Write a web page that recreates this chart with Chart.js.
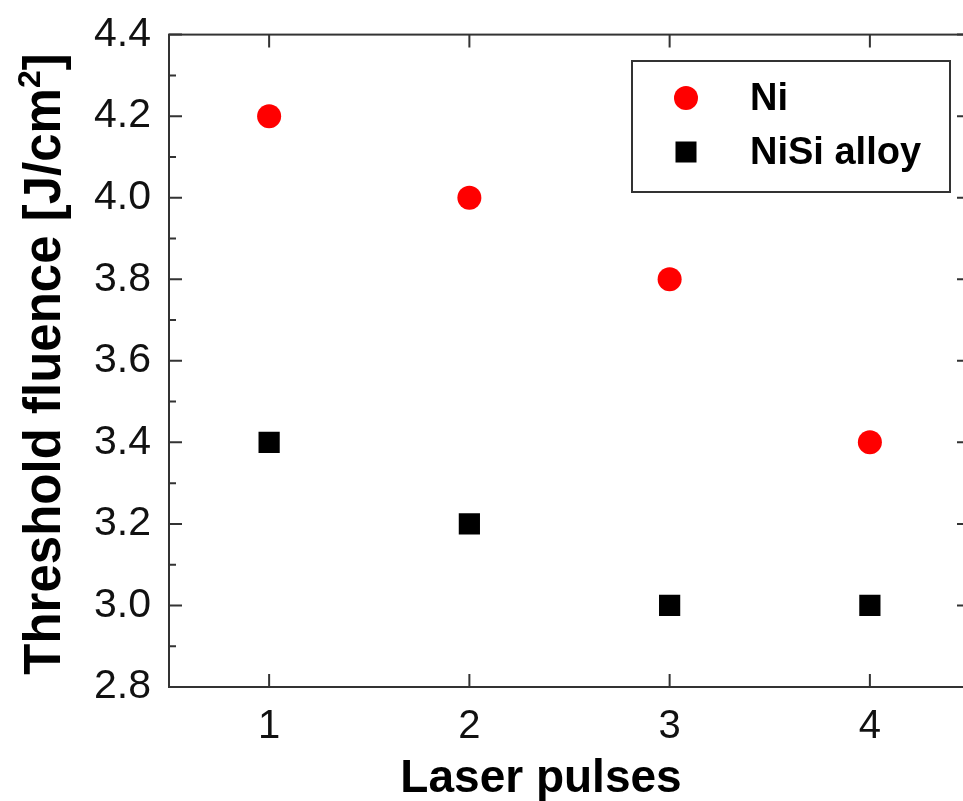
<!DOCTYPE html>
<html>
<head>
<meta charset="utf-8">
<script src="https://cdn.jsdelivr.net/npm/chart.js@4/dist/chart.umd.min.js"></script>
<style>
  html, body { margin: 0; padding: 0; background: #fff; overflow: hidden; }
  #wrap { width: 963px; height: 801px; overflow: hidden; }
</style>
</head>
<body>
<div id="wrap"><canvas id="fluenceChart" width="985" height="801" style="width:985px;height:801px"></canvas></div>
<script>
// data
const pulses = [1, 2, 3, 4];
const niFluence = [4.2, 4.0, 3.8, 3.4];
const nisiFluence = [3.4, 3.2, 3.0, 3.0];

// axis ticks
const xTicks = [1, 2, 3, 4];
const yTicks = [2.8, 3.0, 3.2, 3.4, 3.6, 3.8, 4.0, 4.2, 4.4];
const yTickLabels = ['2.8', '3.0', '3.2', '3.4', '3.6', '3.8', '4.0', '4.2', '4.4'];

const FONT = "'Liberation Sans', Arial, Helvetica, sans-serif";
const AXIS_COLOR = '#333';

// frame, inward ticks, axis titles and legend box
const framePlugin = {
    id: 'frame',
    afterDraw(chart) {
        const ctx = chart.ctx;
        const area = chart.chartArea;
        const xs = chart.scales.x;
        const ys = chart.scales.y;
        const major = 13, minor = 7;

        ctx.save();
        ctx.strokeStyle = AXIS_COLOR;
        ctx.lineWidth = 2;
        ctx.strokeRect(area.left, area.top, area.right - area.left, area.bottom - area.top);

        ctx.beginPath();
        // x ticks, bottom and top
        xTicks.forEach(v => {
            const px = xs.getPixelForValue(v);
            ctx.moveTo(px, area.bottom); ctx.lineTo(px, area.bottom - major);
            ctx.moveTo(px, area.top); ctx.lineTo(px, area.top + major);
        });
        // y ticks, left and right (major + minor)
        yTicks.forEach((v, i) => {
            const py = ys.getPixelForValue(v);
            ctx.moveTo(area.left, py); ctx.lineTo(area.left + major, py);
            ctx.moveTo(area.right, py); ctx.lineTo(area.right - major, py);
            if (i < yTicks.length - 1) {
                const pm = ys.getPixelForValue((v + yTicks[i + 1]) / 2);
                ctx.moveTo(area.left, pm); ctx.lineTo(area.left + minor, pm);
                ctx.moveTo(area.right, pm); ctx.lineTo(area.right - minor, pm);
            }
        });
        ctx.stroke();

        // x title
        ctx.fillStyle = '#000';
        ctx.font = 'bold 46px ' + FONT;
        ctx.textAlign = 'center';
        ctx.textBaseline = 'alphabetic';
        ctx.fillText('Laser pulses', 541, 792);

        // y title with superscript
        ctx.save();
        ctx.translate(60, 364);
        ctx.rotate(-Math.PI / 2);
        const big = 'bold 51px ' + FONT, small = 'bold 32px ' + FONT;
        const partA = 'Threshold fluence [J/cm', partB = '2', partC = ']';
        ctx.font = big; const wA = ctx.measureText(partA).width, wC = ctx.measureText(partC).width;
        ctx.font = small; const wB = ctx.measureText(partB).width;
        let tx = -(wA + wB + wC) / 2;
        ctx.textAlign = 'left';
        ctx.font = big; ctx.fillText(partA, tx, 0); tx += wA;
        ctx.font = small; ctx.fillText(partB, tx, -20); tx += wB;
        ctx.font = big; ctx.fillText(partC, tx, 0);
        ctx.restore();

        // legend
        const lx = 632, ly = 61, lw = 318, lh = 131;
        ctx.strokeStyle = AXIS_COLOR;
        ctx.lineWidth = 2;
        ctx.fillStyle = '#fff';
        ctx.fillRect(lx, ly, lw, lh);
        ctx.strokeRect(lx, ly, lw, lh);
        const rows = [98, 152];
        chart.data.datasets.forEach((ds, i) => {
            const cy = rows[i];
            ctx.fillStyle = ds.backgroundColor;
            if (ds.pointStyle === 'rect') {
                ctx.fillRect(686 - 10.5, cy - 10.5, 21, 21);
            } else {
                ctx.beginPath();
                ctx.arc(686, cy, 12, 0, Math.PI * 2);
                ctx.fill();
            }
            ctx.fillStyle = '#000';
            ctx.font = 'bold 38px ' + FONT;
            ctx.textAlign = 'left';
            ctx.textBaseline = 'middle';
            ctx.fillText(ds.label, 750, cy + 2);
        });
        ctx.restore();
    }
};

const ctx = document.getElementById('fluenceChart').getContext('2d');
new Chart(ctx, {
    type: 'scatter',
    data: {
        datasets: [{
            label: 'Ni',
            data: pulses.map((p, i) => ({ x: p, y: niFluence[i] })),
            backgroundColor: '#ff0000',
            borderWidth: 0,
            pointStyle: 'circle',
            pointRadius: 12
        }, {
            label: 'NiSi alloy',
            data: pulses.map((p, i) => ({ x: p, y: nisiFluence[i] })),
            backgroundColor: '#000000',
            borderWidth: 0,
            pointStyle: 'rect',
            pointRadius: 15
        }]
    },
    options: {
        responsive: false,
        animation: false,
        layout: { padding: { top: 32, right: 11, left: 0, bottom: 0 } },
        plugins: {
            legend: { display: false },
            tooltip: { enabled: false }
        },
        scales: {
            x: {
                type: 'linear',
                min: 0.5,
                max: 4.5,
                grid: { display: false },
                border: { display: false },
                afterBuildTicks: scale => { scale.ticks = xTicks.map(v => ({ value: v })); },
                afterFit: scale => { scale.height = 114; },
                ticks: {
                    color: '#111',
                    font: { family: FONT, size: 40 },
                    padding: 8,
                    maxRotation: 0,
                    callback: v => String(v)
                }
            },
            y: {
                min: 2.8,
                max: 4.4,
                grid: { display: false },
                border: { display: false },
                afterBuildTicks: scale => { scale.ticks = yTicks.map(v => ({ value: v })); },
                afterFit: scale => { scale.width = 169; },
                ticks: {
                    color: '#111',
                    font: { family: FONT, size: 41 },
                    padding: 10,
                    callback: (v, i) => yTickLabels[i]
                }
            }
        }
    },
    plugins: [framePlugin]
});
</script>
</body>
</html>
